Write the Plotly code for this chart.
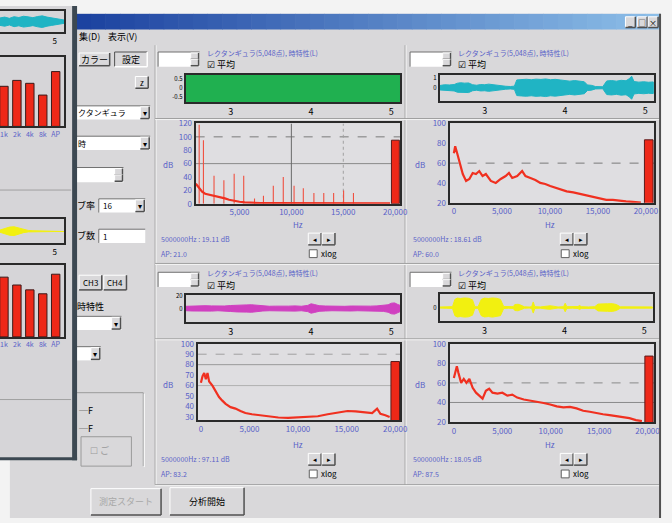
import plotly.graph_objects as go

W, H = 672, 523
FONT = "Noto Sans CJK JP"

# ======================= DATA =======================
wave_ticks = [3, 4, 5]
spec_ticks = [0, 5000, 10000, 15000, 20000]
spec_tick_text = ["0", "5,000", "10,000", "15,000", "20,000"]

# CH1 (top-left) waveform envelope (s, amplitude)
ch1_t = [2.44, 2.60, 2.80, 3.00, 3.20, 3.40, 3.60, 3.80, 4.00, 4.20, 4.40, 4.60, 4.80, 5.00, 5.11]
ch1_amp = [0.95, 0.92, 0.96, 0.94, 0.97, 0.93, 0.95, 0.96, 0.94, 0.92, 0.95, 0.97, 0.93, 0.95, 0.94]
# CH1 spectrum: broadband floor + harmonic peaks
ch1_hz = [800, 1000, 1200, 1400, 1700, 2000, 2400, 2800, 3200, 3600, 4000, 4500, 5000, 5500, 6000,
          7000, 8000, 10000, 12000, 14000, 16000, 18000, 19500]
ch1_db = [30, 26, 22, 18, 15, 14, 12, 11, 10, 8, 6, 4, 3, 2, 1.5, 1, 1, 0.8, 0.6, 0.6, 0.5, 0.5, 0.5]
ch1_peak_hz = [1120, 1530, 2550, 3500, 4490, 5410, 6450, 7310, 8260, 9220, 10260, 11150, 12170,
               13120, 14070, 15030, 15980]
ch1_peak_db = [118, 95, 42, 35, 45, 42, 8, 12, 27, 40, 27, 23, 16, 16, 16, 20, 16]
ch1_ap = 95

# CH2 (top-right)
ch2_t = [2.44, 2.50, 2.56, 2.62, 2.66, 2.70, 2.75, 2.80, 2.85, 2.90, 2.95, 3.00, 3.05, 3.10, 3.15,
         3.20, 3.26, 3.32, 3.37, 3.40, 3.46, 3.52, 3.58, 3.64, 3.70, 3.76, 3.82, 3.88, 3.94, 4.00,
         4.06, 4.12, 4.18, 4.24, 4.28, 4.33, 4.38, 4.43, 4.47, 4.52, 4.58, 4.64, 4.70, 4.76, 4.80,
         4.83, 4.86, 4.92, 4.98, 5.04, 5.10]
ch2_amp = [0.22, 0.30, 0.28, 0.32, 0.45, 0.50, 0.46, 0.48, 0.30, 0.25, 0.32, 0.30, 0.36, 0.30, 0.28,
           0.22, 0.15, 0.12, 0.16, 0.78, 0.82, 0.85, 0.80, 0.86, 0.83, 0.88, 0.80, 0.84, 0.78, 0.70,
           0.66, 0.72, 0.64, 0.60, 0.28, 0.24, 0.12, 0.08, 0.10, 0.68, 0.72, 0.66, 0.74, 0.70, 0.90,
           1.15, 0.62, 0.56, 0.60, 0.55, 0.58]
ch2_hz = [0, 137, 344, 584, 928, 1271, 1615, 1959, 2302, 2646, 2990, 3333, 3849, 4364, 4880, 5395,
          5739, 6082, 6598, 7113, 7457, 7973, 8488, 9003, 9519, 10034, 10550, 11065, 11753, 12440,
          13127, 13814, 14502, 15189, 15876, 16564, 17251, 17938, 18625, 19485]
ch2_db = [70, 77, 70, 62, 49, 42, 44, 50, 49, 52, 47, 49, 42, 40, 44, 47, 50, 45, 47, 52, 47, 45, 43,
          40, 39, 37, 35.5, 34, 31.5, 30.5, 29, 27, 26, 24.5, 23, 23, 22, 21.5, 21, 20.3]
ch2_ap = 83.5

# CH3 (bottom-left)
ch3_t = [2.44, 2.52, 2.60, 2.68, 2.76, 2.84, 2.92, 3.00, 3.08, 3.14, 3.20, 3.26, 3.32, 3.40, 3.48,
         3.56, 3.64, 3.72, 3.80, 3.88, 3.96, 4.00, 4.04, 4.10, 4.18, 4.26, 4.34, 4.42, 4.50, 4.58,
         4.66, 4.74, 4.82, 4.90, 4.96, 5.00, 5.04, 5.08, 5.11]
ch3_amp = [3.5, 4.0, 3.8, 4.5, 4.2, 3.6, 4.0, 4.8, 5.5, 6.2, 5.8, 6.0, 5.2, 4.0, 3.6, 3.8, 3.4, 3.8,
           4.2, 3.6, 5.0, 7.5, 6.5, 4.5, 4.0, 3.6, 3.8, 3.5, 4.0, 3.6, 3.4, 3.8, 4.2, 4.6, 6.0, 8.5,
           9.0, 6.5, 5.0]
ch3_hz = [0, 169, 339, 508, 678, 847, 1186, 1525, 1864, 2203, 2542, 3051, 3559, 4068, 4576, 5254,
          5932, 6949, 7966, 8983, 10000, 11017, 12034, 13051, 14068, 15085, 15932, 16780, 17627,
          18136, 18475, 18983, 19424]
ch3_db = [62.7, 69, 72, 66, 72, 64, 60, 55, 49, 45.6, 42.5, 39.4, 38, 35.7, 33.8, 32.6, 31.7, 30.7,
          29.5, 29.2, 29.5, 30, 30.7, 32.6, 34.5, 35.7, 35.4, 34.8, 33.8, 38, 33, 31.7, 30]
ch3_ap = 83

# CH4 (bottom-right)
ch4_t = [2.44, 2.52, 2.60, 2.63, 2.66, 2.70, 2.75, 2.80, 2.85, 2.88, 2.92, 2.96, 3.00, 3.05, 3.10,
         3.15, 3.20, 3.24, 3.30, 3.36, 3.38, 3.42, 3.45, 3.50, 3.56, 3.59, 3.61, 3.63, 3.70, 3.78,
         3.82, 3.86, 3.92, 3.99, 4.01, 4.03, 4.10, 4.17, 4.19, 4.21, 4.30, 4.38, 4.42, 4.48, 4.54,
         4.60, 4.65, 4.70, 4.80, 4.90, 5.00, 5.10]
ch4_amp = [0.06, 0.08, 0.10, 0.95, 1.10, 1.05, 1.12, 1.08, 0.90, 0.10, 0.08, 0.95, 1.10, 1.05, 1.12,
           1.08, 0.95, 0.12, 0.08, 0.10, 0.35, 0.38, 0.30, 0.08, 0.06, 0.10, 0.65, 0.10, 0.07, 0.18,
           0.20, 0.16, 0.06, 0.10, 0.50, 0.10, 0.07, 0.12, 0.24, 0.10, 0.07, 0.10, 0.40, 0.46, 0.44,
           0.45, 0.35, 0.08, 0.06, 0.07, 0.06, 0.07]
ch4_hz = [0, 136, 307, 477, 750, 1022, 1295, 1601, 1942, 2283, 2624, 2964, 3305, 3646, 3986, 4497,
          5008, 5519, 6031, 6542, 7223, 7905, 8586, 9267, 9949, 10630, 11312, 11993, 12674, 13356,
          14037, 14719, 15400, 16081, 16763, 17444, 18126, 18807, 19421]
ch4_db = [65, 72, 77, 70, 60, 64, 60, 64, 55, 50, 47, 44, 52, 54, 50, 49, 50, 47, 48, 45, 43, 42,
          40.5, 39.5, 38, 36, 35, 35.5, 34, 31.5, 30.5, 29, 28, 27, 26, 25, 24, 22, 21]
ch4_ap = 87.4

# Background window (left): octave-band bars and waveforms
band_labels = ["1k", "2k", "4k", "8k", "AP"]
band_pos = [1, 2, 3, 4, 5]
bands_top = [57.7, 66.2, 62.0, 45.1, 78.9]
bands_bottom = [83.6, 72.6, 65.8, 60.3, 87.7]
bg_cyan_t = [4.30, 4.36, 4.42, 4.48, 4.54, 4.60, 4.66, 4.72, 4.78, 4.84, 4.90, 4.96, 5.02, 5.08, 5.12]
bg_cyan_amp = [0.45, 0.55, 0.40, 0.60, 0.50, 0.65, 0.58, 0.48, 0.62, 0.70, 0.55, 0.45, 0.30, 0.25, 0.20]
bg_yel_t = [4.30, 4.36, 4.42, 4.48, 4.54, 4.60, 4.66, 4.72, 4.80, 4.90, 5.00, 5.12]
bg_yel_amp = [0.15, 0.35, 0.55, 0.60, 0.45, 0.20, 0.10, 0.06, 0.05, 0.05, 0.05, 0.05]

# ======================= STYLE / HELPERS =======================
FACE = "#d9d8da"
FRAME = "#2a2a2a"
BLUE = "#5a62c8"
RED = "#f03020"

fig = go.Figure()
shapes, anns = [], []


def X(x):
    return x / W


def Y(y):
    return 1 - y / H


def rect(x0, y0, x1, y1, fill=None, line=None, lw=1, layer="below"):
    shapes.append(dict(type="rect", xref="paper", yref="paper", x0=X(x0), x1=X(x1), y0=Y(y1), y1=Y(y0),
                       fillcolor=fill or "rgba(0,0,0,0)",
                       line=dict(color=line or "rgba(0,0,0,0)", width=lw if line else 0), layer=layer))


def seg(x0, y0, x1, y1, color, lw=1, dash="solid", layer="below"):
    shapes.append(dict(type="line", xref="paper", yref="paper", x0=X(x0), x1=X(x1), y0=Y(y0), y1=Y(y1),
                       line=dict(color=color, width=lw, dash=dash), layer=layer))


def text(x, y, s, size=9, color="#000", anchor="left"):
    anns.append(dict(xref="paper", yref="paper", x=X(x), y=Y(y), text=s, showarrow=False,
                     xanchor=anchor, yanchor="middle", borderpad=0,
                     font=dict(size=size, color=color, family=FONT)))


def button(x0, y0, x1, y1, label=None, pressed=False, size=9, color="#000"):
    rect(x0, y0, x1, y1, fill=FACE)
    hi, lo = ("#505050", "#ffffff") if pressed else ("#ffffff", "#505050")
    seg(x0, y0, x1, y0, hi)
    seg(x0, y0, x0, y1, hi)
    seg(x0, y1, x1, y1, lo, 1.5)
    seg(x1, y0, x1, y1, lo, 1.5)
    if label:
        text((x0 + x1) / 2, (y0 + y1) / 2, label, size, color, "center")


def field(x0, y0, x1, y1, label=None, arrow=False, spin=False):
    rect(x0, y0, x1, y1, fill="#ffffff")
    seg(x0, y0, x1, y0, "#707070")
    seg(x0, y0, x0, y1, "#707070")
    if arrow:
        button(x1 - 10, y0 + 1, x1 - 1, y1 - 1, "▾", size=8)
    if spin:
        button(x1 - 9, y0 + 1, x1 - 1, (y0 + y1) / 2, None)
        button(x1 - 9, (y0 + y1) / 2, x1 - 1, y1 - 1, None)
    if label:
        text(x0 + 3, (y0 + y1) / 2, label, 8)


layout_axes = {}
ax_n = [0]


def add_axes(x0, y0, x1, y1, xr, yr, xt=None, xtt=None, yt=None, ytt=None, tcol="#000", tsize=9,
             ytsize=None):
    ax_n[0] += 1
    i = ax_n[0]
    sx = "" if i == 1 else str(i)
    common = dict(showgrid=False, zeroline=False, showline=True, mirror=True, linecolor=FRAME,
                  linewidth=2, ticks="", fixedrange=True)
    layout_axes["xaxis" + sx] = dict(domain=[X(x0), X(x1)], range=xr, anchor="y" + sx,
                                     tickmode="array", tickvals=xt or [], ticktext=xtt,
                                     showticklabels=bool(xt),
                                     tickfont=dict(size=tsize, color=tcol, family=FONT), **common)
    layout_axes["yaxis" + sx] = dict(domain=[Y(y1), Y(y0)], range=yr, anchor="x" + sx,
                                     tickmode="array", tickvals=yt or [], ticktext=ytt,
                                     showticklabels=bool(yt),
                                     tickfont=dict(size=ytsize or tsize, color=tcol, family=FONT),
                                     **common)
    return "x" + sx, "y" + sx


def envelope(t, amp):
    return t + t[::-1], amp + [-a for a in amp[::-1]]


# ======================= WINDOW CHROME =======================
rect(10, 8, 668, 523, fill=FACE)
n = 40
c0, c1 = (28, 66, 160), (140, 190, 232)
for k in range(n):
    f = k / (n - 1)
    col = "rgb(%d,%d,%d)" % tuple(int(c0[j] + (c1[j] - c0[j]) * f) for j in range(3))
    xa = 77 + (668 - 77) * k / n
    xb = 77 + (668 - 77) * (k + 1) / n + 0.6
    rect(xa, 8, xb, 24, fill=col)
for bx, g in [(633, "_"), (645, "□"), (656, "×")]:
    button(bx, 11, bx + 10, 22, g, size=8)
seg(668, 8, 668, 523, "#505050", 2)
text(79, 31, "集(D)", 9)
text(108, 31, "表示(V)", 9)

# left control column of main window
button(80, 48, 111, 61, "カラー", size=9)
button(116, 47, 149, 62, "設定", pressed=True, size=9)
button(137, 72, 150, 84, "z", size=8)
field(75, 102, 152, 116, "クタンギュラ", arrow=True)
field(75, 133, 152, 147, "時", arrow=True)
field(75, 165, 125, 180, None, spin=True)
text(77, 204, "ブ率", 9)
field(100, 197, 147, 211, "16", arrow=True)
text(77, 234, "ブ数", 9)
field(100, 228, 147, 242, "1")
button(80, 275, 103, 290, "CH3", size=8)
button(105, 275, 128, 290, "CH4", size=8)
text(77, 307, "時特性", 9)
field(75, 317, 123, 331, None, arrow=True)
field(75, 348, 102, 362, None, arrow=True)
seg(77, 395, 145, 395, "#9a9a9a")
seg(145, 395, 145, 470, "#9a9a9a")
seg(146, 396, 146, 471, "#ffffff")
text(79, 413, "─F", 9)
text(79, 432, "─F", 9)
rect(82, 440, 133, 470, line="#9a9a9a")
text(90, 454, "☐ ご", 9, "#9a9a9a")
button(92, 493, 163, 520, "測定スタート", size=9, color="#a8a8a8")
button(172, 492, 247, 520, "分析開始", size=9)

# panel etched separators
for xv in (157, 410):
    seg(xv, 40, xv, 489, "#9c9c9c")
    seg(xv + 1, 40, xv + 1, 489, "#f4f4f4")
for yh in (115, 263, 340, 489):
    seg(157, yh, 667, yh, "#9c9c9c")
    seg(157, yh + 1, 667, yh + 1, "#f4f4f4")

# ======================= FOUR CHANNEL PANELS =======================
panels = [
    dict(ox=155, oy=35, t=ch1_t, a=ch1_amp, col="#20b050", wf=(188, 70, 405, 98),
         wy=[-0.75, 0.75], wyt=[0.5, 0, -0.5], wytt=["0.5", "0", "-0.5"],
         sf=(198, 120, 405, 202), sx=[780, 20480], sy=[0, 120], syt=[0, 20, 40, 60, 80, 100, 120],
         hz=ch1_hz, db=ch1_db, ap=ch1_ap, apx=20020, apw=760, xt=spec_ticks[1:], xtt=spec_tick_text[1:],
         info=("5000000Hz : 19.11 dB", "AP: 21.0"),
         grid=[("h", 100, "#7a7a7a", "dash"), ("h", 60, "#8a8a8a", "solid"),
               ("v", 10000, "#6a6a6a", "solid"), ("v", 15000, "#a0a0a0", "dot")]),
    dict(ox=410, oy=35, t=ch2_t, a=ch2_amp, col="#20b4c4", wf=(445, 70, 662, 97),
         wy=[-1.32, 1.32], wyt=[1, 0], wytt=["1", "0"],
         sf=(455, 120, 662, 201), sx=[-447, 20860], sy=[20, 100], syt=[20, 40, 60, 80, 100],
         hz=ch2_hz, db=ch2_db, ap=ch2_ap, apx=20300, apw=900, xt=spec_ticks, xtt=spec_tick_text,
         info=("5000000Hz : 18.61 dB", "AP: 60.0"),
         grid=[("h", 60, "#7a7a7a", "dash")]),
    dict(ox=155, oy=260, t=ch3_t, a=ch3_amp, col="#d040c0", wf=(188, 295, 405, 323),
         wy=[-22, 22], wyt=[20, 0], wytt=["20", "0"],
         sf=(200, 345, 405, 423), sx=[-339, 20510], sy=[27, 100], syt=[30, 40, 50, 60, 70, 80, 90, 100],
         hz=ch3_hz, db=ch3_db, ap=ch3_ap, apx=20000, apw=880, xt=spec_ticks, xtt=spec_tick_text,
         info=("5000000Hz : 97.11 dB", "AP: 83.2"),
         grid=[("h", 90, "#a0a0a0", "dash"), ("h", 80, "#9a9a9a", "solid"), ("h", 60, "#b0b0b0", "solid")]),
    dict(ox=410, oy=260, t=ch4_t, a=ch4_amp, col="#f2f010", wf=(445, 294, 661, 322),
         wy=[-1.6, 1.6], wyt=[0], wytt=["0"],
         sf=(455, 345, 662, 425), sx=[-443, 20680], sy=[20, 100], syt=[20, 40, 60, 80, 100],
         hz=ch4_hz, db=ch4_db, ap=ch4_ap, apx=20150, apw=850, xt=spec_ticks, xtt=spec_tick_text,
         info=("5000000Hz : 18.05 dB", "AP: 87.5"),
         grid=[("h", 80, "#8a8a8a", "solid"), ("h", 60, "#8a8a8a", "dash"), ("h", 40, "#8a8a8a", "solid")]),
]

for idx, p in enumerate(panels):
    ox, oy = p["ox"], p["oy"]
    field(ox + 5, oy + 12, ox + 47, oy + 27, None, spin=True)
    text(ox + 53, oy + 13, "レクタンギュラ(5,048点), 時特性(L)", 7, BLUE)
    text(ox + 53, oy + 25, "☑ 平均", 9)
    # waveform
    x0, y0, x1, y1 = p["wf"]
    xa, ya = add_axes(x0, y0, x1, y1, [2.44, 5.11], p["wy"], wave_ticks, [str(v) for v in wave_ticks],
                      p["wyt"], p["wytt"], "#000", 9, ytsize=6)
    ex, ey = envelope(p["t"], p["a"])
    fig.add_trace(go.Scatter(x=ex, y=ey, xaxis=xa, yaxis=ya, mode="lines", fill="toself",
                             fillcolor=p["col"], line=dict(color=p["col"], width=1), hoverinfo="skip"))
    # spectrum
    x0, y0, x1, y1 = p["sf"]
    rect(x0, y0, x1, y1, fill="#dfdee1")
    xs, ys = add_axes(x0, y0, x1, y1, p["sx"], p["sy"], p["xt"], p["xtt"], p["syt"],
                      [str(v) for v in p["syt"]], BLUE, 8)
    for kind, v, gc, gd in p["grid"]:
        if kind == "h":
            shapes.append(dict(type="line", xref=xs, yref=ys, x0=p["sx"][0], x1=p["sx"][1], y0=v, y1=v,
                               line=dict(color=gc, width=1, dash=gd), layer="below"))
        else:
            shapes.append(dict(type="line", xref=xs, yref=ys, x0=v, x1=v, y0=p["sy"][0], y1=p["sy"][1],
                               line=dict(color=gc, width=1, dash=gd), layer="below"))
    if idx == 0:
        px_, py_ = [], []
        for f, d in zip(ch1_peak_hz, ch1_peak_db):
            px_ += [f, f, None]
            py_ += [0, d, None]
        fig.add_trace(go.Scatter(x=px_, y=py_, xaxis=xs, yaxis=ys, mode="lines",
                                 line=dict(color="#f05040", width=1.1), hoverinfo="skip"))
    fig.add_trace(go.Scatter(x=p["hz"], y=p["db"], xaxis=xs, yaxis=ys, mode="lines",
                             line=dict(color=RED, width=2.2), hoverinfo="skip"))
    fig.add_trace(go.Bar(x=[p["apx"]], y=[p["ap"]], width=[p["apw"]], xaxis=xs, yaxis=ys,
                         marker=dict(color="#ee2818", line=dict(color="#5a1a1a", width=1)),
                         hoverinfo="skip"))
    text(ox + 15, oy + 127, "dB", 8, BLUE, "center")
    text(ox + 147, oy + 188, "Hz", 8, BLUE, "center")
    text(ox + 7, oy + 203, p["info"][0], 7, BLUE)
    text(ox + 7, oy + 218, p["info"][1], 7, BLUE)
    button(ox + 157, oy + 197, ox + 170, oy + 209, "◂", size=7)
    button(ox + 171, oy + 197, ox + 184, oy + 209, "▸", size=7)
    rect(ox + 158, oy + 214, ox + 166, oy + 222, fill="#ffffff", line="#606060")
    text(ox + 169, oy + 218, "xlog", 8)

# ======================= BACKGROUND WINDOW (left) =======================
rect(0, 0, 75, 462, fill="#d6d5d8", layer="below")
rect(73, 0, 78, 464, fill="#3c4852")
rect(0, 461, 78, 464, fill="#3c4852")
seg(0, 188, 72, 188, "#a0a0a0")
seg(0, 402, 72, 402, "#a0a0a0")

xa, ya = add_axes(0, 5, 65, 27, [4.30, 5.12], [-1.3, 1.3], [5], ["5"], None, None, "#000", 8)
ex, ey = envelope(bg_cyan_t, bg_cyan_amp)
fig.add_trace(go.Scatter(x=ex, y=ey, xaxis=xa, yaxis=ya, mode="lines", fill="toself",
                         fillcolor="#20b4c4", line=dict(color="#20b4c4", width=1), hoverinfo="skip"))
xa, ya = add_axes(0, 52, 65, 123, [0.695, 5.66], [0, 100], band_pos, band_labels, None, None, BLUE, 7)
fig.add_trace(go.Bar(x=band_pos, y=bands_top, width=0.65, xaxis=xa, yaxis=ya,
                     marker=dict(color="#ee2818", line=dict(color="#3a1a1a", width=1)), hoverinfo="skip"))
xa, ya = add_axes(0, 218, 65, 242, [4.30, 5.12], [-1.6, 1.6], [5], ["5"], None, None, "#000", 8)
ex, ey = envelope(bg_yel_t, bg_yel_amp)
fig.add_trace(go.Scatter(x=ex, y=ey, xaxis=xa, yaxis=ya, mode="lines", fill="toself",
                         fillcolor="#f2f010", line=dict(color="#f2f010", width=1), hoverinfo="skip"))
xa, ya = add_axes(0, 265, 65, 338, [0.695, 5.66], [0, 100], band_pos, band_labels, None, None, BLUE, 7)
fig.add_trace(go.Bar(x=band_pos, y=bands_bottom, width=0.65, xaxis=xa, yaxis=ya,
                     marker=dict(color="#ee2818", line=dict(color="#3a1a1a", width=1)), hoverinfo="skip"))

fig.update_layout(
    width=W, height=H, margin=dict(l=0, r=0, t=0, b=0), autosize=False,
    paper_bgcolor="#f3f3f3", plot_bgcolor="rgba(0,0,0,0)",
    showlegend=False, shapes=shapes, annotations=anns, bargap=0,
    font=dict(family=FONT), **layout_axes,
)

fig.write_html("out.html", config={"displayModeBar": False, "staticPlot": True},
               post_script="document.body.style.margin='0';")
